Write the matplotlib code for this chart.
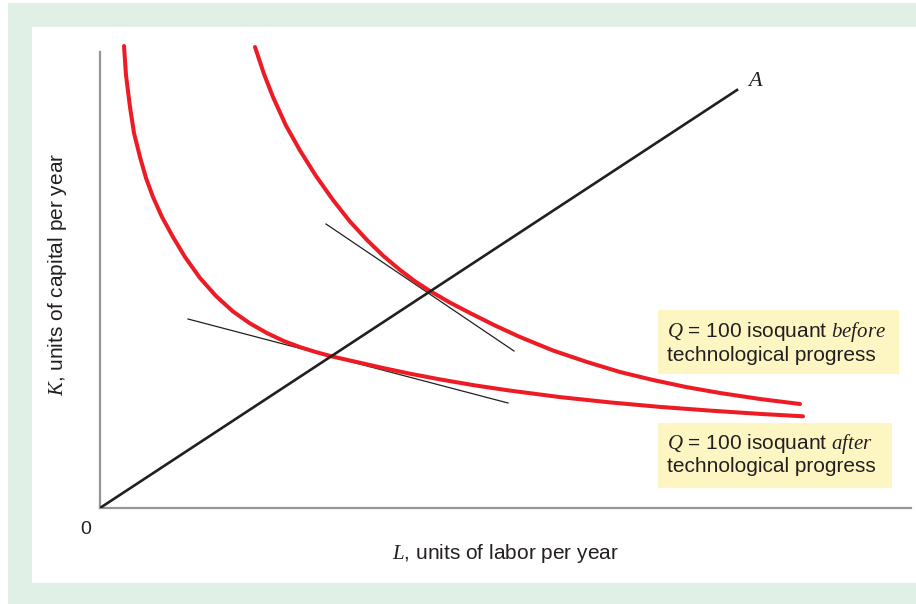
import matplotlib
matplotlib.use('Agg')
import matplotlib.pyplot as plt
from matplotlib.patches import Rectangle

plt.rcParams['font.family'] = ['Liberation Sans', 'DejaVu Sans']
# italic letters (Q, K, L, A, before/after) in a Times-like serif
plt.rcParams['mathtext.fontset'] = 'custom'
plt.rcParams['mathtext.it'] = 'Liberation Serif:italic'
plt.rcParams['mathtext.rm'] = 'Liberation Sans'

# Isoquant after technological progress (L, K)
after_L = [24, 26, 30, 34, 40, 46, 53, 62, 73, 85, 100, 116, 133, 150, 167, 184,
           200, 216, 233, 258, 283, 310, 340, 375, 410, 460, 510, 560, 610, 660, 703]
after_K = [462, 433, 401, 375, 351, 330, 311, 291, 271, 251, 230, 212, 196.5, 184.6,
           174.9, 166.9, 160.9, 155.9, 151.3, 145.7, 140, 134.3, 128.6, 122.6, 117.4,
           110.9, 105.6, 101.1, 97.4, 94.1, 91.7]

# Isoquant before technological progress
before_L = [155, 164, 173, 186, 200, 216, 233, 250, 267, 283, 300, 315, 330, 350,
            370, 395, 420, 453, 487, 520, 553, 586, 620, 660, 700]
before_K = [461, 434, 411, 382.4, 357.5, 332, 308, 286.4, 268, 252.4, 238, 226.7,
            217, 205.4, 195, 182.5, 171, 157.5, 146, 136, 128, 121, 115, 109, 104]

# Ray 0A and the two tangent lines
ray_L = [0, 637]
ray_K = [0, 418]
tan_before_L = [226, 414]
tan_before_K = [284, 157]
tan_after_L = [88, 408]
tan_after_K = [189, 105]

RED = '#ed1c24'
INK = '#231f20'
AXIS_GRAY = '#939598'
FRAME_GREEN = '#e1f0e6'
NOTE_YELLOW = '#fdf6c3'

W, H = 916, 604


def fx(x):
    return x / W


def fy(y):
    return 1 - y / H


fig = plt.figure(figsize=(W / 100, H / 100), dpi=100, facecolor='white')

# green frame with white panel
fig.add_artist(Rectangle((fx(8), fy(604)), 1.0, (604 - 3) / H,
                         transform=fig.transFigure, facecolor=FRAME_GREEN,
                         edgecolor='none', zorder=0))
fig.add_artist(Rectangle((fx(32), fy(583)), 1.0, (583 - 27) / H,
                         transform=fig.transFigure, facecolor='white',
                         edgecolor='none', zorder=0))

ax = fig.add_axes([fx(100), fy(508), 811 / W, 456 / H])
ax.set_xlim(0, 811)
ax.set_ylim(0, 456)
ax.patch.set_alpha(0)
for side in ['top', 'right']:
    ax.spines[side].set_visible(False)
for side in ['left', 'bottom']:
    ax.spines[side].set_color(AXIS_GRAY)
    ax.spines[side].set_linewidth(1.6)
ax.set_xticks([])
ax.set_yticks([])

ax.plot(tan_before_L, tan_before_K, color=INK, lw=0.9, zorder=2)
ax.plot(tan_after_L, tan_after_K, color=INK, lw=0.9, zorder=2)
ax.plot(before_L, before_K, color=RED, lw=2.9, solid_capstyle='round',
        solid_joinstyle='round', clip_on=False, zorder=3)
ax.plot(after_L, after_K, color=RED, lw=2.9, solid_capstyle='round',
        solid_joinstyle='round', clip_on=False, zorder=3)
ax.plot(ray_L, ray_K, color=INK, lw=1.9, zorder=4)

# labels
fig.text(fx(755), fy(80), r'$A$', fontsize=16, ha='center', va='center', color=INK)
fig.text(fx(85.5), fy(530), '0', fontsize=14, ha='center', va='center', color=INK)
fig.text(fx(505), fy(559), r'$L$, units of labor per year', fontsize=15,
         ha='center', va='baseline', color=INK)
fig.text(fx(58), fy(274), r'$K$, units of capital per year', fontsize=15,
         ha='center', va='center', rotation=90, color=INK)

# note boxes
fig.add_artist(Rectangle((fx(658), fy(374)), (899 - 658) / W, (374 - 310) / H,
                         transform=fig.transFigure, facecolor=NOTE_YELLOW,
                         edgecolor='none', zorder=1))
fig.add_artist(Rectangle((fx(658), fy(488)), (892 - 658) / W, (488 - 423) / H,
                         transform=fig.transFigure, facecolor=NOTE_YELLOW,
                         edgecolor='none', zorder=1))

fig.text(fx(667), fy(337), r'$Q$ = 100 isoquant $\mathit{before}$', fontsize=15,
         ha='left', va='baseline', color=INK, zorder=5)
fig.text(fx(667), fy(361), 'technological progress', fontsize=15,
         ha='left', va='baseline', color=INK, zorder=5)
fig.text(fx(667), fy(449), r'$Q$ = 100 isoquant $\mathit{after}$', fontsize=15,
         ha='left', va='baseline', color=INK, zorder=5)
fig.text(fx(667), fy(472), 'technological progress', fontsize=15,
         ha='left', va='baseline', color=INK, zorder=5)

fig.savefig('out.png', dpi=100, facecolor='white')
